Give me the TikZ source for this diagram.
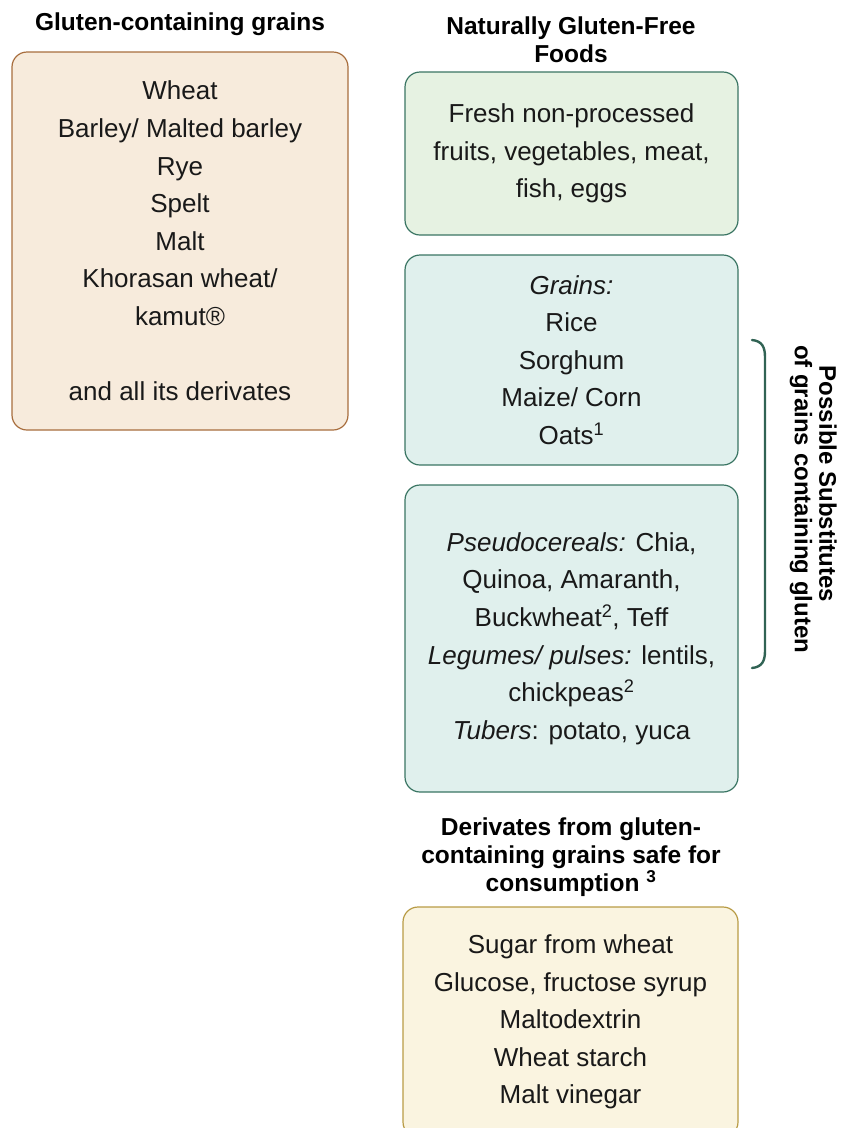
\documentclass[tikz,border=0pt]{standalone}
\usepackage{fontspec}
\setmainfont{Liberation Sans}
\definecolor{beigefill}{HTML}{F7EBDC}
\definecolor{beigeline}{HTML}{A86E3E}
\definecolor{greenfill}{HTML}{E6F2E2}
\definecolor{tealfill}{HTML}{E0F0ED}
\definecolor{tealline}{HTML}{3A7563}
\definecolor{yelfill}{HTML}{FAF4E0}
\definecolor{yelline}{HTML}{B89B45}
\begin{document}
\begin{tikzpicture}[x=1pt,y=-1pt,
  box/.style={draw, line width=1.2pt, rounded corners=15pt, align=center, inner sep=0pt,
    font=\fontsize{26}{37.6}\selectfont, text=black!90},
  title/.style={align=center, font=\bfseries\fontsize{24.5}{28}\selectfont},
  sidelabel/.style={rotate=-90, font=\bfseries\fontsize{24}{28}\selectfont}]
\useasboundingbox (0,0) rectangle (853,1128);
\clip (0,0) rectangle (853,1128);
\node[title] (t1) at (180,24) {Gluten-containing grains};
\node[title] (t2) at (571,40) {Naturally Gluten-Free\\Foods};
\node[title] (t3) at (571,857) {Derivates from gluten-\\containing grains safe for\\consumption \textsuperscript{3}};

\node[box, fill=beigefill, draw=beigeline, minimum width=336pt, minimum height=378pt] (gl) at (180,241)
  {Wheat\\Barley/ Malted barley\\Rye\\Spelt\\Malt\\Khorasan wheat/\\kamut\textregistered\hspace{0.9em}\\ \\and all its derivates};

\node[box, fill=greenfill, draw=tealline, minimum width=333pt, minimum height=163pt] (fresh) at (571.5,153.5)
  {Fresh non-processed\\fruits, vegetables, meat,\\fish, eggs};

\node[box, fill=tealfill, draw=tealline, minimum width=333pt, minimum height=210pt] (grains) at (571.5,360)
  {\textit{Grains:}\\Rice\\Sorghum\\Maize/ Corn\\Oats\textsuperscript{1}};

\node[box, fill=tealfill, draw=tealline, minimum width=333pt, minimum height=307pt] (pseudo) at (571.5,638.5)
  {\textit{Pseudocereals:} Chia,\\Quinoa, Amaranth,\\Buckwheat\textsuperscript{2}, Teff\\\textit{Legumes/ pulses:} lentils,\\chickpeas\textsuperscript{2}\\\textit{Tubers}: potato, yuca};

\node[box, fill=yelfill, draw=yelline, minimum width=335pt, minimum height=230pt] (safe) at (570.5,1022)
  {Sugar from wheat\\Glucose, fructose syrup\\Maltodextrin\\Wheat starch\\Malt vinegar};

\coordinate (bt) at (752,340);
\coordinate (bb) at (752,668);
\draw[tealline!85!black, line width=2.4pt, line cap=round]
  (bt) .. controls (762,341) and (765,347) .. (765,357) -- (765,651)
  .. controls (765,661) and (762,667) .. (bb);
\node[sidelabel] (subst1) at (828,484) {Possible Substitutes};
\node[sidelabel] (subst2) at (801,499) {of grains containing gluten};
\end{tikzpicture}
\end{document}
